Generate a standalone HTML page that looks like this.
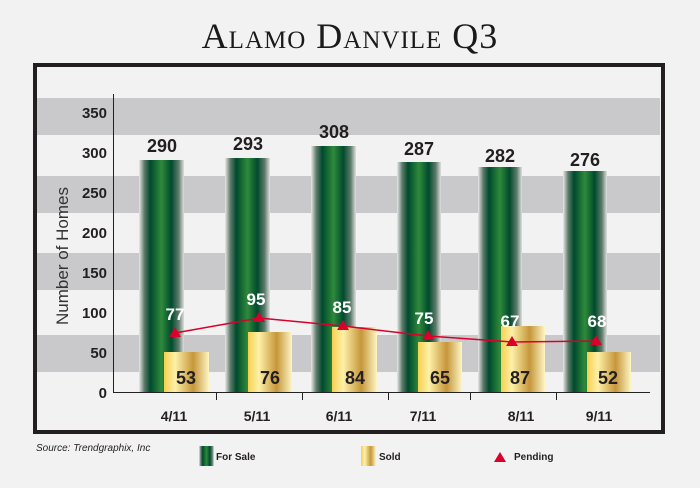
<!DOCTYPE html>
<html><head><style>
body{margin:0;background:#f2f2f2;width:700px;height:483px;overflow:hidden}
svg text{font-family:"Liberation Sans",sans-serif}
</style></head><body>
<svg width="700" height="483" viewBox="0 0 700 483">
<defs>
<linearGradient id="g" x1="0" x2="1" y1="0" y2="0">
<stop offset="0" stop-color="#e8e8e8"/><stop offset="0.12" stop-color="#5d7a6a"/><stop offset="0.25" stop-color="#004a2e"/><stop offset="0.5" stop-color="#2e8a3a"/><stop offset="0.72" stop-color="#004a2e"/><stop offset="0.88" stop-color="#5d7a6a"/><stop offset="1" stop-color="#e0e0e0"/>
</linearGradient>
<linearGradient id="y" x1="0" x2="1" y1="0" y2="0">
<stop offset="0" stop-color="#f7cf4f"/><stop offset="0.25" stop-color="#fdf1a8"/><stop offset="0.65" stop-color="#c6963a"/><stop offset="1" stop-color="#fdf6c4"/>
</linearGradient>
</defs>
<text x="350" y="48" text-anchor="middle" font-family="Liberation Serif,serif" style="font-family:'Liberation Serif',serif;font-variant:small-caps;letter-spacing:1px" font-size="36" fill="#1a1a1a">Alamo Danvile Q3</text>
<rect x="35" y="65" width="628" height="367" fill="#f2f2f2" stroke="#231f20" stroke-width="4"/>
<g fill="#c9c9cb">
<rect x="37" y="98" width="623" height="37"/>
<rect x="37" y="176" width="623" height="37"/>
<rect x="37" y="253" width="623" height="37"/>
<rect x="37" y="335" width="623" height="37"/>
</g>
<line x1="113.5" y1="94" x2="113.5" y2="392" stroke="#222" stroke-width="1"/>
<line x1="113" y1="392.5" x2="650" y2="392.5" stroke="#222" stroke-width="1"/>
<g stroke="#222"><line x1="216.5" y1="392" x2="216.5" y2="400"/><line x1="302.5" y1="392" x2="302.5" y2="400"/><line x1="388.5" y1="392" x2="388.5" y2="400"/><line x1="470.5" y1="392" x2="470.5" y2="400"/><line x1="556.5" y1="392" x2="556.5" y2="400"/></g>
<g font-size="15" font-weight="bold" fill="#231f20" text-anchor="end">
<text x="107" y="118">350</text><text x="107" y="158">300</text><text x="107" y="198">250</text><text x="107" y="238">200</text><text x="107" y="278">150</text><text x="107" y="318">100</text><text x="107" y="358">50</text><text x="107" y="398">0</text>
</g>
<text transform="translate(68,256) rotate(-90)" text-anchor="middle" font-size="17" fill="#333">Number of Homes</text>
<g fill="url(#g)">
<rect x="139" y="160" width="45" height="232"/>
<rect x="225" y="158" width="45" height="234"/>
<rect x="311" y="146" width="45" height="246"/>
<rect x="397" y="162" width="44" height="230"/>
<rect x="478" y="167" width="44" height="225"/>
<rect x="563" y="171" width="44" height="221"/>
</g>
<g fill="url(#y)">
<rect x="164" y="352" width="45" height="40"/>
<rect x="248" y="332" width="44" height="60"/>
<rect x="332" y="327" width="45" height="65"/>
<rect x="418" y="342" width="44" height="50"/>
<rect x="501" y="326" width="44" height="66"/>
<rect x="587" y="352" width="44" height="40"/>
</g>
<g font-size="18" font-weight="bold" fill="#231f20" text-anchor="middle">
<text x="162" y="152">290</text><text x="248" y="150">293</text><text x="334" y="138">308</text><text x="419" y="155">287</text><text x="500" y="162">282</text><text x="585" y="166">276</text>
<text x="186" y="384">53</text><text x="270" y="384">76</text><text x="355" y="384">84</text><text x="440" y="384">65</text><text x="520" y="384">87</text><text x="608" y="384">52</text>
</g>
<polyline points="175,333 259,318 343,326 428,336 512,342 596,341" fill="none" stroke="#d9002a" stroke-width="1.5"/>
<g fill="#d9002a">
<path d="M175,327 l-6,10 h12z"/><path d="M259,312 l-6,10 h12z"/><path d="M343,320 l-6,10 h12z"/><path d="M428,330 l-6,10 h12z"/><path d="M512,336 l-6,10 h12z"/><path d="M596,335 l-6,10 h12z"/>
</g>
<g font-size="17" font-weight="bold" fill="#fff" text-anchor="middle">
<text x="175" y="320">77</text><text x="256" y="305">95</text><text x="342" y="313">85</text><text x="424" y="324">75</text><text x="510" y="327">67</text><text x="597" y="327">68</text>
</g>
<g font-size="14" font-weight="bold" fill="#231f20" text-anchor="middle">
<text x="174" y="421">4/11</text><text x="257" y="421">5/11</text><text x="339" y="421">6/11</text><text x="423" y="421">7/11</text><text x="521" y="421">8/11</text><text x="599" y="421">9/11</text>
</g>
<text x="36" y="451" font-size="10" font-style="italic" fill="#231f20">Source: Trendgraphix, Inc</text>
<rect x="199" y="446" width="15" height="20" fill="url(#g)"/>
<text x="216" y="460" font-size="10" font-weight="bold" fill="#231f20">For Sale</text>
<rect x="361" y="446" width="15" height="20" fill="url(#y)"/>
<text x="379" y="460" font-size="10" font-weight="bold" fill="#231f20">Sold</text>
<path d="M500,452 l-6,10 h12z" fill="#d9002a"/>
<text x="514" y="460" font-size="10" font-weight="bold" fill="#231f20">Pending</text>
</svg>
</body></html>
